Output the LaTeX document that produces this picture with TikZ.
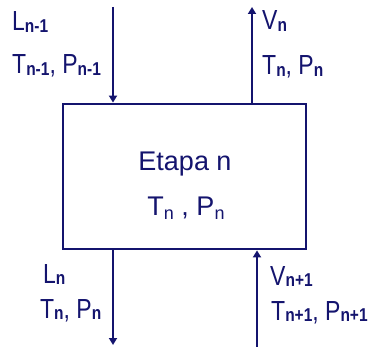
\documentclass[tikz,border=0pt]{standalone}
\usepackage{fontspec}
\usepackage{graphicx}
\setmainfont{Liberation Sans}
\usetikzlibrary{arrows.meta}
\definecolor{navy}{RGB}{20,20,110}
\newcommand\sbx[1]{\raisebox{-1.5pt}{\fontsize{15.5}{15.5}\selectfont\bfseries #1}}
\newcommand\sbc[1]{\raisebox{-4pt}{\fontsize{18}{18}\selectfont #1}}
\newcommand\tall[1]{\scalebox{1}[1.2]{#1}}
\begin{document}
\begin{tikzpicture}[x=1pt,y=-1pt,
  lbl/.style={anchor=base west, inner sep=0pt, text=navy, font=\fontsize{23}{23}\selectfont},
  ctr/.style={anchor=base, inner sep=0pt, text=navy, font=\fontsize{27}{27}\selectfont},
  flow/.style={draw=navy, line width=2pt, -{Triangle[length=7pt,width=8pt]}},
  stage/.style={draw=navy, line width=2.8pt, minimum width=243pt, minimum height=145pt, inner sep=0pt}]
\useasboundingbox (0,0) rectangle (369,347);
\node[stage] (box) at (184.5,176.5) {};
\node[ctr] (etapa) at (185,171) {Etapa n};
\node[ctr] (tp) at (186,215) {T\sbc{n} , P\sbc{n}};
\coordinate (lin) at (113,7);
\coordinate (vout) at (252,7);
\coordinate (lout) at (113,345);
\coordinate (vin) at (257,347);
\draw[flow] (lin) -- (lin |- box.north);
\draw[flow] (vout |- box.north) -- (vout);
\draw[flow] (lout |- box.south) -- (lout);
\draw[flow] (vin) -- (vin |- box.south);
\node[lbl] (l1) at (12,31) {\tall{L\sbx{n-1}}};
\node[lbl] (l2) at (12,74) {\tall{T\sbx{n-1}, P\sbx{n-1}}};
\node[lbl] (v1) at (262,30) {\tall{V\sbx{n}}};
\node[lbl] (v2) at (262,75) {\tall{T\sbx{n}, P\sbx{n}}};
\node[lbl] (l3) at (43,283) {\tall{L\sbx{n}}};
\node[lbl] (l4) at (40,318) {\tall{T\sbx{n}, P\sbx{n}}};
\node[lbl] (v3) at (270,285) {\tall{V\sbx{n+1}}};
\node[lbl] (v4) at (271,320) {\tall{T\sbx{n+1}, P\sbx{n+1}}};
\end{tikzpicture}
\end{document}
